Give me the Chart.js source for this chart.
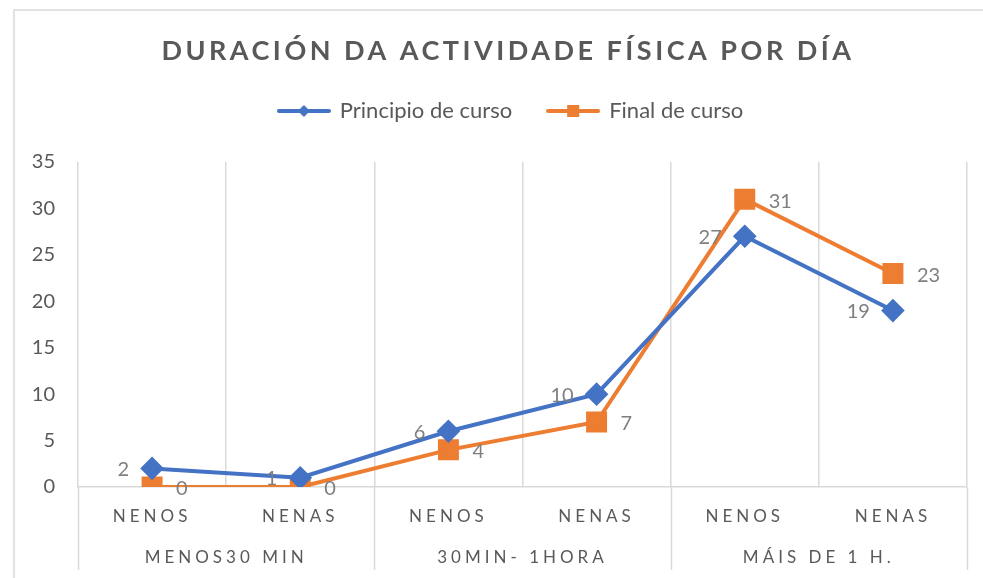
<!DOCTYPE html>
<html>
<head>
<meta charset="utf-8">
<script src="https://cdn.jsdelivr.net/npm/chart.js@4"></script>
<style>
  html, body { margin: 0; padding: 0; background: #fff; }
</style>
</head>
<body>
<canvas id="myChart" width="983" height="578"></canvas>
<script>
// data
var categories = ['NENOS', 'NENAS', 'NENOS', 'NENAS', 'NENOS', 'NENAS'];
var groups = ['MENOS30 MIN', '30MIN- 1HORA', 'MÁIS DE 1 H.'];
var principio = [2, 1, 6, 10, 27, 19];
var finalCurso = [0, 0, 4, 7, 31, 23];
var yMin = 0, yMax = 35, yStep = 5;

var blue = '#4472C4';
var orange = '#ED7D31';
var fontFam = 'Lato, "Liberation Sans", sans-serif';

// legend icon: line with the marker in the middle
function legendIcon(color, shape) {
  var c = document.createElement('canvas');
  c.width = 54; c.height = 16;
  var g = c.getContext('2d');
  g.strokeStyle = color;
  g.lineWidth = 4;
  g.lineCap = 'round';
  g.beginPath(); g.moveTo(2, 8); g.lineTo(52, 8); g.stroke();
  g.fillStyle = color;
  if (shape == 'diamond') {
    g.beginPath(); g.moveTo(27, 2); g.lineTo(33, 8); g.lineTo(27, 14); g.lineTo(21, 8); g.closePath(); g.fill();
  } else {
    g.fillRect(21, 2, 12, 12);
  }
  return c;
}
var icons = [legendIcon(blue, 'diamond'), legendIcon(orange, 'square')];

// wrap a draw method: letter spacing and a small horizontal shift
function tweak(fn, sp, dx) {
  return function () {
    var ctx = this.ctx || this.chart.ctx;
    ctx.save();
    ctx.letterSpacing = sp;
    ctx.translate(dx, 0);
    fn.apply(this, arguments);
    ctx.restore();
  };
}

var extras = {
  id: 'extras',
  beforeLayout: function (chart) {
    // extra room under the legend
    var lg = chart.legend;
    if (lg && !lg._fx) {
      var fit = lg.fit;
      lg.fit = function () {
        fit.apply(this, arguments);
        this.height += 30;
      };
      lg._fx = true;
    }
  },
  beforeDraw: function (chart) {
    var ctx = chart.ctx;
    // outer frame
    ctx.save();
    ctx.strokeStyle = '#d9d9d9';
    ctx.lineWidth = 1.5;
    ctx.beginPath();
    ctx.moveTo(14, 600); ctx.lineTo(14, 10); ctx.lineTo(990, 10);
    ctx.stroke();
    ctx.restore();
    // title / legend centred on the frame, spaced category labels
    if (chart.titleBlock && !chart.titleBlock._sp) {
      chart.titleBlock.draw = tweak(chart.titleBlock.draw, '3.5px', 22);
      chart.titleBlock._sp = true;
    }
    if (chart.legend && !chart.legend._sp) {
      chart.legend.draw = tweak(chart.legend.draw, '0px', 25);
      chart.legend._sp = true;
    }
    ['x', 'x2'].forEach(function (id) {
      var s = chart.scales[id];
      if (s && !s._sp) {
        s.drawLabels = tweak(s.drawLabels, '4px', 0);
        s._sp = true;
      }
    });
  },
  afterDraw: function (chart) {
    var ctx = chart.ctx;
    var x = chart.scales.x;
    var area = chart.chartArea;
    // group separators through the label rows
    ctx.save();
    ctx.strokeStyle = '#d9d9d9';
    ctx.lineWidth = 1.5;
    for (var g = 0; g <= groups.length; g++) {
      var px = Math.round(x.getPixelForValue(g * 2 - 0.5)) + 0.5;
      ctx.beginPath();
      ctx.moveTo(px, area.bottom);
      ctx.lineTo(px, 570);
      ctx.stroke();
    }
    ctx.restore();
  },
  afterDatasetsDraw: function (chart) {
    var ctx = chart.ctx;
    ctx.save();
    ctx.font = '20px ' + fontFam;
    ctx.fillStyle = '#7f7f7f';
    ctx.textBaseline = 'middle';
    chart.data.datasets.forEach(function (ds, i) {
      var meta = chart.getDatasetMeta(i);
      meta.data.forEach(function (pt, j) {
        if (i == 0) {
          ctx.textAlign = 'right';
          ctx.fillText(String(ds.data[j]), pt.x - 23, pt.y + 1);
        } else {
          ctx.textAlign = 'left';
          ctx.fillText(String(ds.data[j]), pt.x + 24, pt.y + 2);
        }
      });
    });
    ctx.restore();
  }
};

var ctx = document.getElementById('myChart').getContext('2d');
var myChart = new Chart(ctx, {
  type: 'line',
  data: {
    labels: categories,
    datasets: [{
      label: 'Principio de curso',
      data: principio,
      borderColor: blue,
      backgroundColor: blue,
      borderWidth: 4,
      pointStyle: 'rectRot',
      pointRadius: 9,
      pointHoverRadius: 9,
      tension: 0
    }, {
      label: 'Final de curso',
      data: finalCurso,
      borderColor: orange,
      backgroundColor: orange,
      borderWidth: 4,
      pointStyle: 'rect',
      pointRadius: 12,
      pointHoverRadius: 12,
      tension: 0
    }]
  },
  options: {
    responsive: false,
    animation: false,
    layout: {
      padding: { left: 0, right: 11, top: 0, bottom: 0 }
    },
    plugins: {
      title: {
        display: true,
        text: 'DURACIÓN DA ACTIVIDADE FÍSICA POR DÍA',
        color: '#595959',
        font: { family: fontFam, size: 27, weight: 'bold', lineHeight: 1 },
        padding: { top: 38, bottom: -1 }
      },
      legend: {
        position: 'top',
        labels: {
          usePointStyle: true,
          pointStyleWidth: 50,
          padding: 36,
          color: '#595959',
          font: { family: fontFam, size: 22 },
          generateLabels: function (chart) {
            var items = Chart.defaults.plugins.legend.labels.generateLabels(chart);
            items.forEach(function (it, i) { it.pointStyle = icons[i]; });
            return items;
          }
        }
      },
      tooltip: { enabled: false }
    },
    scales: {
      x: {
        type: 'category',
        offset: true,
        grid: { offset: true, color: '#d9d9d9', lineWidth: 1.5, drawTicks: false },
        border: { display: true, color: '#d9d9d9', width: 1.5 },
        ticks: { color: '#595959', font: { family: fontFam, size: 17 }, padding: 19, maxRotation: 0, autoSkip: false },
        afterFit: function (s) { s.height = 50; }
      },
      x2: {
        type: 'category',
        position: 'bottom',
        labels: groups,
        offset: true,
        grid: { display: false },
        border: { display: false },
        ticks: { color: '#595959', font: { family: fontFam, size: 17 }, padding: 2, maxRotation: 0, autoSkip: false },
        afterFit: function (s) { s.height = 41; }
      },
      y: {
        min: yMin,
        max: yMax,
        grid: { display: false },
        border: { display: false },
        ticks: { stepSize: yStep, color: '#595959', font: { family: fontFam, size: 20 }, padding: 15 },
        afterFit: function (s) { s.width = 78; }
      }
    }
  },
  plugins: [extras]
});
</script>
</body>
</html>
